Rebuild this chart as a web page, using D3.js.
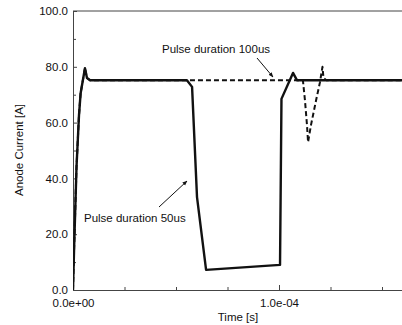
<!DOCTYPE html>
<html><head><meta charset="utf-8">
<script src="https://cdn.jsdelivr.net/npm/d3@7"></script>
<style>
html,body{margin:0;padding:0;background:#fff;}
svg{display:block;font-family:"Liberation Sans",Arial,sans-serif;}
</style></head>
<body><svg id="c" width="402" height="325"></svg>
<script>
// Pulse duration 50us (solid)
const solidTime = [0, 0.05e-5, 0.17e-5, 0.29e-5, 0.37e-5, 0.58e-5, 0.68e-5, 0.83e-5, 5.53e-5, 5.78e-5, 6.02e-5, 6.46e-5, 10.05e-5, 10.12e-5, 10.68e-5, 10.87e-5, 16.0e-5];
const solidCurrent = [0, 14, 44, 62.5, 70.5, 79.5, 76, 75.2, 75.2, 72.8, 33.3, 7.2, 9.0, 68.5, 77.8, 75.2, 75.2];
// Pulse duration 100us (dashed)
const dashTime = [0, 0.05e-5, 0.17e-5, 0.29e-5, 0.37e-5, 0.58e-5, 0.68e-5, 0.83e-5, 11.16e-5, 11.26e-5, 11.36e-5, 11.41e-5, 11.55e-5, 11.8e-5, 11.99e-5, 12.11e-5, 12.16e-5, 12.3e-5, 16.0e-5];
const dashCurrent = [0, 14, 44, 62.5, 70.5, 79.5, 76, 75.2, 75.2, 68, 59, 53, 59, 68, 74.5, 80, 76, 75.2, 75.2];

const xMajorTicks = [0, 1e-4];
const xTickLabels = ["0.0e+00", "1.0e-04"];
const xMinorTicks = [2.5e-5, 5e-5, 7.5e-5, 1.25e-4, 1.5e-4, 1.75e-4];
const yMajorTicks = [0, 20, 40, 60, 80, 100];
const yTickLabels = ["0.0", "20.0", "40.0", "60.0", "80.0", "100.0"];
const yMinorTicks = [10, 30, 50, 70, 90];

const svg = d3.select("#c");
const L = 73, T = 11, B = 290, R = 485;
const FS = 11.5;
const x = d3.scaleLinear().domain([0, 2e-4]).range([L, R]);
const y = d3.scaleLinear().domain([0, 100]).range([B, T]);
const axisColor = "#444";

// frame (top & right lines)
svg.append("line").attr("x1", L).attr("x2", R).attr("y1", T).attr("y2", T).attr("stroke", axisColor).attr("stroke-width", 1);
svg.append("line").attr("x1", R).attr("x2", R).attr("y1", T).attr("y2", B).attr("stroke", axisColor).attr("stroke-width", 1);

// x axis (ticks inward)
const xAx = svg.append("g").attr("transform", `translate(0,${B})`)
  .call(d3.axisBottom(x).tickValues(xMajorTicks).tickSize(-5).tickPadding(9)
    .tickFormat((d, i) => xTickLabels[i]));
xAx.select(".domain").attr("stroke", axisColor);
xAx.selectAll(".tick line").attr("stroke", axisColor);
xAx.selectAll("text").attr("font-size", FS).attr("fill", "#111");
const xMin = svg.append("g").attr("transform", `translate(0,${B})`)
  .call(d3.axisBottom(x).tickValues(xMinorTicks).tickSize(-3).tickFormat(""));
xMin.select(".domain").remove();
xMin.selectAll(".tick line").attr("stroke", axisColor);

// y axis
const yAx = svg.append("g").attr("transform", `translate(${L},0)`)
  .call(d3.axisLeft(y).tickValues(yMajorTicks).tickSize(-4).tickPadding(5)
    .tickFormat((d, i) => yTickLabels[i]));
yAx.select(".domain").attr("stroke", axisColor);
yAx.selectAll(".tick line").attr("stroke", axisColor);
yAx.selectAll("text").attr("font-size", FS).attr("fill", "#111");
const yMin = svg.append("g").attr("transform", `translate(${L},0)`)
  .call(d3.axisLeft(y).tickValues(yMinorTicks).tickSize(-3).tickFormat(""));
yMin.select(".domain").remove();
yMin.selectAll(".tick line").attr("stroke", axisColor);

// axis titles
svg.append("text").attr("x", 238).attr("y", 321).attr("text-anchor", "middle")
  .attr("font-size", FS).attr("fill", "#111").text("Time [s]");
svg.append("text").attr("transform", "translate(23,150) rotate(-90)").attr("text-anchor", "middle")
  .attr("font-size", FS).attr("fill", "#111").text("Anode Current [A]");

// lines
const line = d3.line().x(d => x(d[0])).y(d => y(d[1]));
svg.append("clipPath").attr("id", "pc").append("rect")
  .attr("x", L).attr("y", T - 2).attr("width", R - L).attr("height", B - T + 2);
const g = svg.append("g").attr("clip-path", "url(#pc)");
g.append("path").datum(dashTime.map((t, i) => [t, dashCurrent[i]]))
  .attr("d", line).attr("fill", "none").attr("stroke", "#111").attr("stroke-width", 2)
  .attr("stroke-dasharray", "5,3").attr("stroke-linejoin", "round");
g.append("path").datum(solidTime.map((t, i) => [t, solidCurrent[i]]))
  .attr("d", line).attr("fill", "none").attr("stroke", "#111").attr("stroke-width", 2.4)
  .attr("stroke-linejoin", "round");

// annotations
const defs = svg.append("defs");
defs.append("marker").attr("id", "ah").attr("viewBox", "0 0 10 10").attr("refX", 9).attr("refY", 5)
  .attr("markerWidth", 5).attr("markerHeight", 5).attr("orient", "auto")
  .append("path").attr("d", "M0,1 L10,5 L0,9 Z").attr("fill", "#111");

svg.append("text").attr("x", 162).attr("y", 53).attr("font-size", FS).attr("fill", "#111").text("Pulse duration 100us");
svg.append("line").attr("x1", 257).attr("y1", 58).attr("x2", 273).attr("y2", 77)
  .attr("stroke", "#111").attr("stroke-width", 1).attr("marker-end", "url(#ah)");

svg.append("text").attr("x", 84).attr("y", 222).attr("font-size", FS).attr("fill", "#111").text("Pulse duration 50us");
svg.append("line").attr("x1", 159).attr("y1", 207).attr("x2", 187).attr("y2", 181)
  .attr("stroke", "#111").attr("stroke-width", 1).attr("marker-end", "url(#ah)");
</script></body></html>
